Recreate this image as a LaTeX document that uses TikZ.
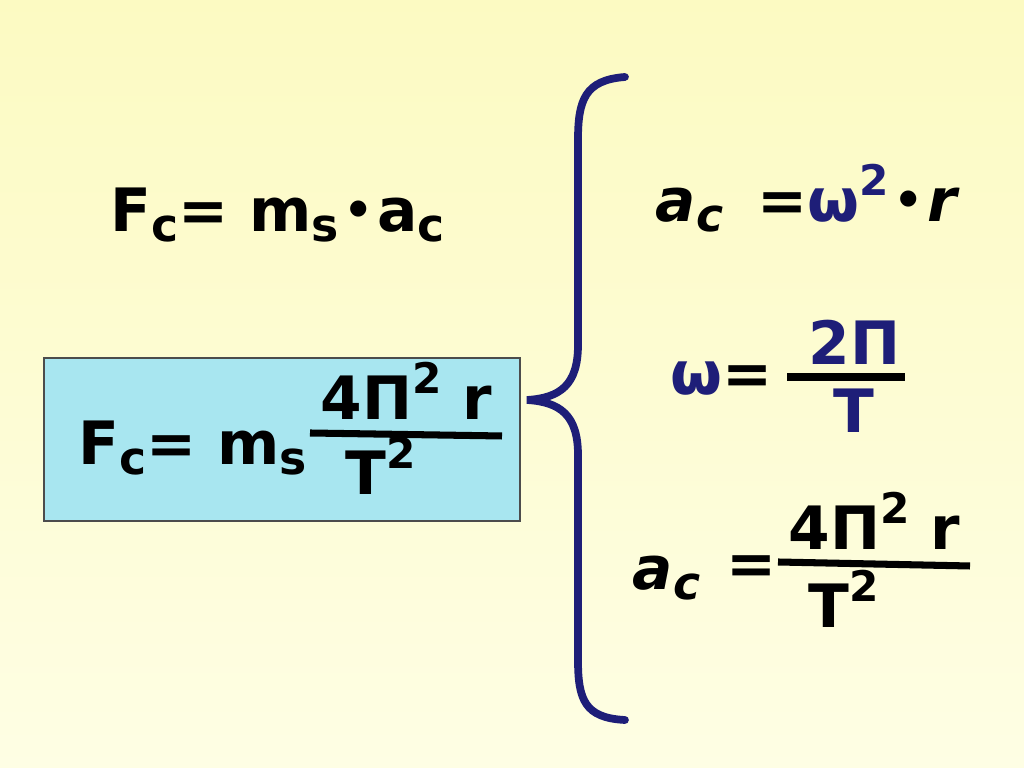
\documentclass[tikz,border=0pt]{standalone}
\usepackage{fontspec}
\setmainfont{DejaVu Sans}
\definecolor{bgtop}{HTML}{FCFAC2}
\definecolor{bgbot}{HTML}{FEFEE4}
\definecolor{boxfill}{HTML}{A8E6F0}
\definecolor{navy}{HTML}{1E1E78}
\newcommand{\lo}[1]{\raisebox{-0.3ex}{\fontsize{13}{13}\selectfont #1}}
\newcommand{\hi}[1]{\raisebox{0.8ex}{\fontsize{12}{12}\selectfont #1}}
\newcommand{\mdot}{\,\raisebox{0.55ex}{\fontsize{6}{6}\selectfont●}\,}
\tikzset{
  eq/.style={font=\bfseries\fontsize{17}{20}\selectfont, inner sep=0pt, anchor=base west},
  frac/.style={line width=2pt},
}
\begin{document}
\begin{tikzpicture}[x=0.01cm, y=-0.01cm]
  \shade[top color=bgtop, bottom color=bgbot] (0,0) rectangle (1024,768);
  \useasboundingbox (0,0) rectangle (1024,768);

  % left formulas
  \node[eq] (fc1) at (110,232) {F\lo{c}= m\lo{s}\mdot a\lo{c}};
  \draw[fill=boxfill, draw=black!70, line width=0.6pt] (44,358) rectangle (520,521);
  \node[eq] (fc2) at (78,465) {F\lo{c}= m\lo{s}};
  \node[eq] (num1) at (320,420) {4Π\hi{2} r};
  \node[eq] (den1) at (345,495) {T\hi{2}};
  \draw[frac] (310,433) -- (502,436);

  % brace
  \draw[navy, line width=2.2pt, line cap=round]
    (625,77) .. controls (585,80) and (578,100) .. (578,140)
    -- (578,345) .. controls (578,385) and (560,398) .. (527,400)
    .. controls (560,402) and (578,415) .. (578,455)
    -- (578,660) .. controls (578,700) and (585,718) .. (625,720);

  % right formulas
  \node[eq] (ac1) at (655,222) {\itshape a\lo{c}};
  \node[eq] (eq1) at (757,222) {=\textcolor{navy}{ω\hi{2}}\mdot\textit{r}};
  \node[eq, text=navy] (om) at (670,395) {ω};
  \node[eq] (eq2) at (722,395) {=};
  \node[eq, text=navy] (num2) at (808,365) {2Π};
  \node[eq, text=navy] (den2) at (833,433) {T};
  \draw[frac] (787,377) -- (905,377);
  \node[eq] (ac2) at (632,590) {\itshape a\lo{c}};
  \node[eq] (eq3) at (726,585) {=};
  \node[eq] (num3) at (788,550) {4Π\hi{2} r};
  \node[eq] (den3) at (808,628) {T\hi{2}};
  \draw[frac] (778,562) -- (970,566);
\end{tikzpicture}
\end{document}
